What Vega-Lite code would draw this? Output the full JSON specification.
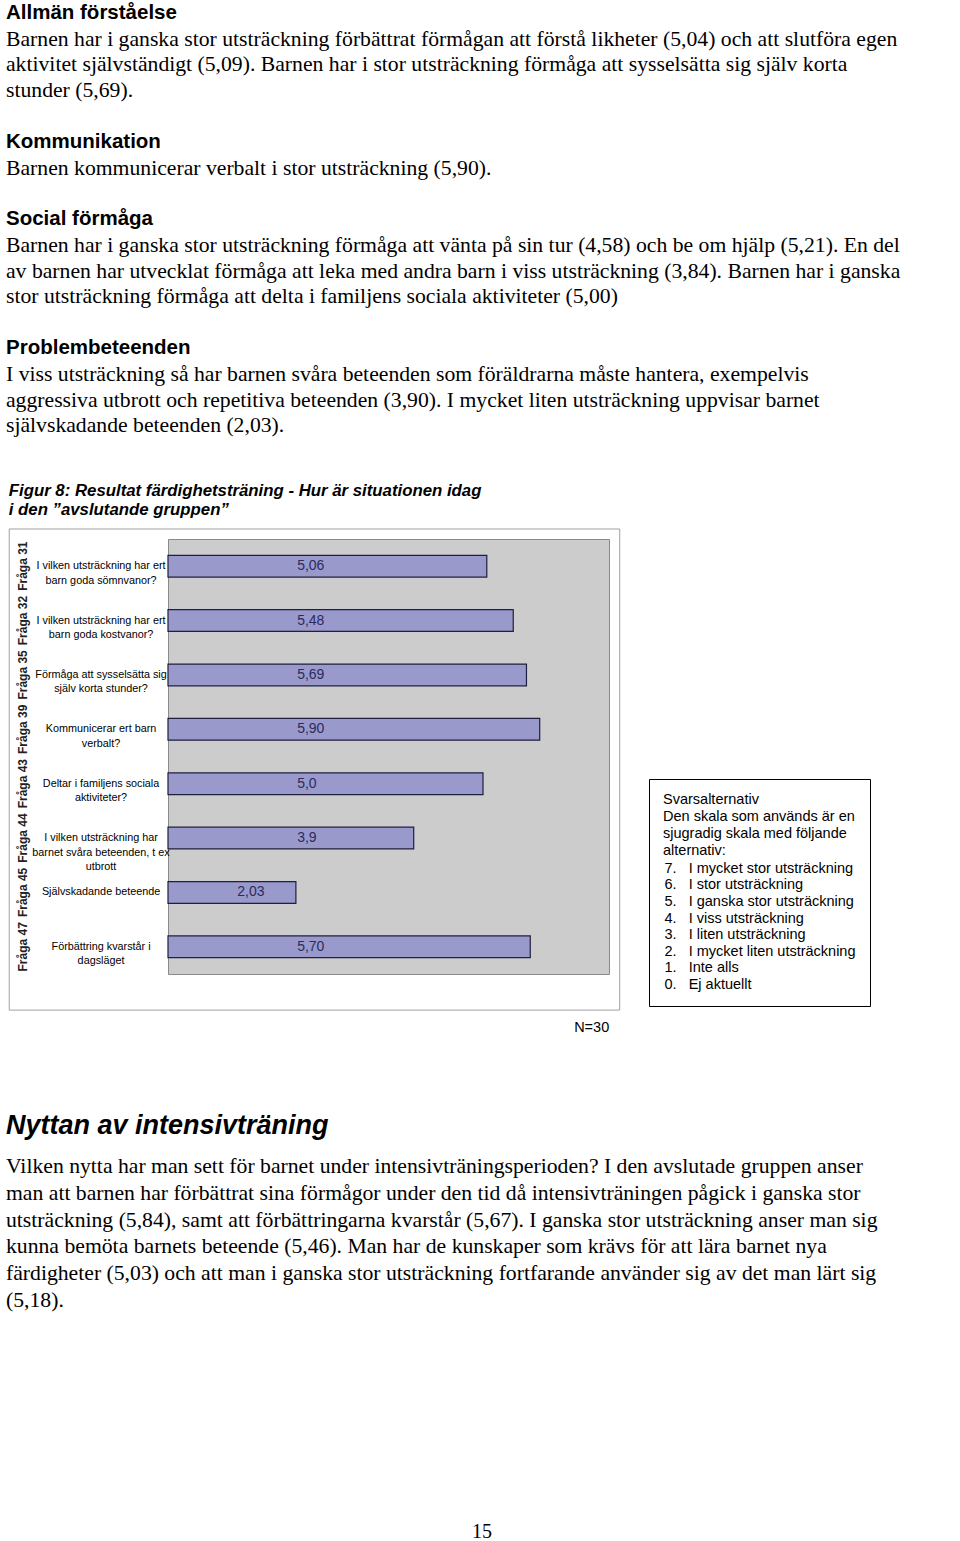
{
  "$schema": "https://vega.github.io/schema/vega-lite/v6.json",
  "background": "white",
  "padding": {"left": 5, "top": 0, "right": 0, "bottom": 0},
  "autosize": {"type": "pad"},
  "columns": 1,
  "align": "none",
  "spacing": 0,
  "resolve": {"scale": {"color": "independent"}, "legend": {"color": "independent"}},
  "title": {"text": "15", "orient": "bottom", "anchor": "middle", "offset": 26, "font": "Liberation Serif", "fontSize": 20, "fontWeight": "normal", "color": "black"},
  "config": {"view": {"stroke": null}, "font": "Liberation Sans"},
  "concat": [
    {
      "width": 790,
      "height": 482,
      "data": {"values": [
        {"line": 0, "kind": "heading", "text": "Allmän förståelse"},
        {"line": 1, "kind": "body", "text": "Barnen har i ganska stor utsträckning förbättrat förmågan att förstå likheter (5,04) och att slutföra egen"},
        {"line": 2, "kind": "body", "text": "aktivitet självständigt (5,09). Barnen har i stor utsträckning förmåga att sysselsätta sig själv korta"},
        {"line": 3, "kind": "body", "text": "stunder (5,69)."},
        {"line": 5, "kind": "heading", "text": "Kommunikation"},
        {"line": 6, "kind": "body", "text": "Barnen kommunicerar verbalt i stor utsträckning (5,90)."},
        {"line": 8, "kind": "heading", "text": "Social förmåga"},
        {"line": 9, "kind": "body", "text": "Barnen har i ganska stor utsträckning förmåga att vänta på sin tur (4,58) och be om hjälp (5,21). En del"},
        {"line": 10, "kind": "body", "text": "av barnen har utvecklat förmåga att leka med andra barn i viss utsträckning (3,84). Barnen har i ganska"},
        {"line": 11, "kind": "body", "text": "stor utsträckning förmåga att delta i familjens sociala aktiviteter (5,00)"},
        {"line": 13, "kind": "heading", "text": "Problembeteenden"},
        {"line": 14, "kind": "body", "text": "I viss utsträckning så har barnen svåra beteenden som föräldrarna måste hantera, exempelvis"},
        {"line": 15, "kind": "body", "text": "aggressiva utbrott och repetitiva beteenden (3,90). I mycket liten utsträckning uppvisar barnet"},
        {"line": 16, "kind": "body", "text": "självskadande beteenden (2,03)."}
      ]},
      "encoding": {
        "x": {"datum": 0, "type": "quantitative", "scale": {"domain": [0.17017, 1], "nice": false, "zero": false}, "axis": null},
        "y": {"field": "line", "type": "quantitative", "scale": {"domain": [-0.5, 18.2], "reverse": true, "nice": false, "zero": false}, "axis": null},
        "text": {"field": "text"}
      },
      "layer": [
        {"transform": [{"filter": "datum.kind === 'heading'"}], "mark": {"type": "text", "align": "left", "baseline": "middle", "font": "Liberation Sans", "fontWeight": "bold", "fontSize": 20.5, "color": "black"}},
        {"transform": [{"filter": "datum.kind === 'body'"}], "mark": {"type": "text", "align": "left", "baseline": "middle", "font": "Liberation Serif", "fontSize": 21.7, "color": "black"}}
      ]
    },
    {
      "title": {"text": ["Figur 8: Resultat färdighetsträning - Hur är situationen idag", "i den ”avslutande gruppen”"], "anchor": "start", "frame": "bounds", "font": "Liberation Sans", "fontSize": 16.8, "fontStyle": "italic", "fontWeight": "bold", "lineHeight": 19, "offset": 10, "color": "black"},
      "width": 441,
      "height": 435,
      "view": {"fill": "#cccccc", "stroke": "#8a8a8a"},
      "resolve": {"scale": {"y": "independent"}},
      "layer": [
        {
          "data": {"values": [{"label": "N=30"}]},
          "layer": [
            {
              "mark": {"type": "rect", "filled": false, "color": "#a0a0a0", "strokeWidth": 1},
              "encoding": {
                "x": {"datum": -2.52, "type": "quantitative", "scale": {"domain": [0, 7], "nice": false}, "axis": null},
                "x2": {"datum": 7.17},
                "y": {"datum": 1.023, "type": "quantitative", "scale": {"domain": [0, 1], "nice": false, "zero": false}, "axis": null},
                "y2": {"datum": -0.083}
              }
            },
            {
              "mark": {"type": "text", "align": "center", "baseline": "middle", "font": "Liberation Sans", "fontSize": 14.5, "color": "black"},
              "encoding": {
                "x": {"datum": 6.725, "type": "quantitative", "scale": {"domain": [0, 7], "nice": false}, "axis": null},
                "y": {"datum": -0.125, "type": "quantitative", "scale": {"domain": [0, 1], "nice": false, "zero": false}, "axis": null},
                "text": {"field": "label"}
              }
            }
          ]
        },
        {
          "data": {"values": [
            {"fraga": "Fråga 31", "question": "I vilken utsträckning har ert\nbarn goda sömnvanor?", "value": 5.06, "label": "5,06"},
            {"fraga": "Fråga 32", "question": "I vilken utsträckning har ert\nbarn goda kostvanor?", "value": 5.48, "label": "5,48"},
            {"fraga": "Fråga 35", "question": "Förmåga att sysselsätta sig\nsjälv korta stunder?", "value": 5.69, "label": "5,69"},
            {"fraga": "Fråga 39", "question": "Kommunicerar ert barn\nverbalt?", "value": 5.9, "label": "5,90"},
            {"fraga": "Fråga 43", "question": "Deltar i familjens sociala\naktiviteter?", "value": 5.0, "label": "5,0"},
            {"fraga": "Fråga 44", "question": "I vilken utsträckning har\nbarnet svåra beteenden, t ex\nutbrott", "value": 3.9, "label": "3,9"},
            {"fraga": "Fråga 45", "question": "Självskadande beteende", "value": 2.03, "label": "2,03"},
            {"fraga": "Fråga 47", "question": "Förbättring kvarstår i\ndagsläget", "value": 5.75, "label": "5,70"}
          ]},
          "layer": [
            {
              "mark": {"type": "bar", "fill": "#9999cc", "stroke": "#1f1f40", "strokeWidth": 1.2},
              "encoding": {
                "y": {"field": "fraga", "type": "nominal", "sort": null, "scale": {"paddingInner": 0.6, "paddingOuter": 0.3},
                  "axis": {"title": null, "labels": false, "domain": false, "grid": false, "ticks": true, "tickBand": "extent", "tickSize": 153, "tickColor": "#aaaaaa", "tickWidth": 1}},
                "x": {"field": "value", "type": "quantitative", "scale": {"domain": [0, 7], "nice": false},
                  "axis": {"title": null, "values": [0, 1, 2, 3, 4, 5, 6, 7], "domain": false, "grid": true, "gridColor": "#999999", "gridWidth": 1, "ticks": true, "tickColor": "#888888", "tickSize": 4, "labelFont": "Liberation Sans", "labelFontWeight": "bold", "labelFontSize": 11.5, "labelColor": "black", "labelPadding": 5, "labelFlush": false}}
              }
            },
            {
              "transform": [{"filter": "datum.value >= 3"}],
              "mark": {"type": "text", "align": "left", "baseline": "middle", "font": "Liberation Sans", "fontSize": 14, "color": "#2b2b5e"},
              "encoding": {
                "x": {"datum": 2.05, "type": "quantitative", "scale": {"domain": [0, 7], "nice": false}, "axis": null},
                "y": {"field": "fraga", "type": "nominal", "sort": null, "scale": {"paddingInner": 0.6, "paddingOuter": 0.3}, "axis": null},
                "text": {"field": "label"}
              }
            },
            {
              "transform": [{"filter": "datum.value < 3"}],
              "mark": {"type": "text", "align": "left", "baseline": "middle", "font": "Liberation Sans", "fontSize": 14, "color": "#2b2b5e"},
              "encoding": {
                "x": {"datum": 1.1, "type": "quantitative", "scale": {"domain": [0, 7], "nice": false}, "axis": null},
                "y": {"field": "fraga", "type": "nominal", "sort": null, "scale": {"paddingInner": 0.6, "paddingOuter": 0.3}, "axis": null},
                "text": {"field": "label"}
              }
            },
            {
              "mark": {"type": "text", "angle": 270, "align": "center", "baseline": "middle", "font": "Liberation Sans", "fontWeight": "bold", "fontSize": 12, "color": "#222222"},
              "encoding": {
                "x": {"datum": -2.305, "type": "quantitative", "scale": {"domain": [0, 7], "nice": false}, "axis": null},
                "y": {"field": "fraga", "type": "nominal", "sort": null, "scale": {"paddingInner": 0.6, "paddingOuter": 0.3}, "axis": null},
                "text": {"field": "fraga"}
              }
            },
            {
              "mark": {"type": "text", "align": "center", "baseline": "middle", "font": "Liberation Sans", "fontSize": 10.8, "lineHeight": 14.5, "lineBreak": "\n", "color": "black"},
              "encoding": {
                "x": {"datum": -1.063, "type": "quantitative", "scale": {"domain": [0, 7], "nice": false}, "axis": null},
                "y": {"field": "fraga", "type": "nominal", "sort": null, "scale": {"paddingInner": 0.6, "paddingOuter": 0.3}, "axis": null},
                "text": {"field": "question"}
              }
            }
          ]
        },
        {
          "data": {"values": [
            {"alt": "7.\u00a0\u00a0\u00a0I mycket stor utsträckning"},
            {"alt": "6.\u00a0\u00a0\u00a0I stor utsträckning"},
            {"alt": "5.\u00a0\u00a0\u00a0I ganska stor utsträckning"},
            {"alt": "4.\u00a0\u00a0\u00a0I viss utsträckning"},
            {"alt": "3.\u00a0\u00a0\u00a0I liten utsträckning"},
            {"alt": "2.\u00a0\u00a0\u00a0I mycket liten utsträckning"},
            {"alt": "1.\u00a0\u00a0\u00a0Inte alls"},
            {"alt": "0.\u00a0\u00a0\u00a0Ej aktuellt"}
          ]},
          "mark": {"type": "point", "opacity": 0},
          "encoding": {
            "color": {"field": "alt", "type": "nominal", "sort": null, "scale": {"range": ["#ffffff"]},
              "legend": {"orient": "none", "legendX": 481, "legendY": 240,
                "title": ["Svarsalternativ", "Den skala som används är en", "sjugradig skala med följande", "alternativ:"],
                "titleFont": "Liberation Sans", "titleFontSize": 14.5, "titleFontWeight": "normal", "titleColor": "black", "titleLineHeight": 17, "titlePadding": 3, "titleLimit": 500,
                "labelFont": "Liberation Sans", "labelFontSize": 14.5, "labelColor": "black", "labelLimit": 500, "labelOffset": -13,
                "symbolSize": 0, "symbolOpacity": 0, "symbolStrokeWidth": 0, "rowPadding": 1.6,
                "padding": 14, "strokeColor": "black", "fillColor": "white", "cornerRadius": 0}}
          }
        }
      ]
    },
    {
      "width": 790,
      "height": 460,
      "data": {"values": [
        {"line": 0, "kind": "heading", "text": "Nyttan av intensivträning"},
        {"line": 1, "kind": "body", "text": "Vilken nytta har man sett för barnet under intensivträningsperioden? I den avslutade gruppen anser"},
        {"line": 2, "kind": "body", "text": "man att barnen har förbättrat sina förmågor under den tid då intensivträningen pågick i ganska stor"},
        {"line": 3, "kind": "body", "text": "utsträckning (5,84), samt att förbättringarna kvarstår (5,67). I ganska stor utsträckning anser man sig"},
        {"line": 4, "kind": "body", "text": "kunna bemöta barnets beteende (5,46). Man har de kunskaper som krävs för att lära barnet nya"},
        {"line": 5, "kind": "body", "text": "färdigheter (5,03) och att man i ganska stor utsträckning fortfarande använder sig av det man lärt sig"},
        {"line": 6, "kind": "body", "text": "(5,18)."}
      ]},
      "encoding": {
        "x": {"datum": 0, "type": "quantitative", "scale": {"domain": [0.17017, 1], "nice": false, "zero": false}, "axis": null},
        "y": {"field": "line", "type": "quantitative", "scale": {"domain": [-3.851, 13.313], "reverse": true, "nice": false, "zero": false}, "axis": null},
        "text": {"field": "text"}
      },
      "layer": [
        {"transform": [{"filter": "datum.kind === 'heading'"}], "mark": {"type": "text", "align": "left", "baseline": "middle", "dy": -13, "font": "Liberation Sans", "fontWeight": "bold", "fontStyle": "italic", "fontSize": 27, "color": "black"}},
        {"transform": [{"filter": "datum.kind === 'body'"}], "mark": {"type": "text", "align": "left", "baseline": "middle", "font": "Liberation Serif", "fontSize": 21.7, "color": "black"}}
      ]
    }
  ]
}
